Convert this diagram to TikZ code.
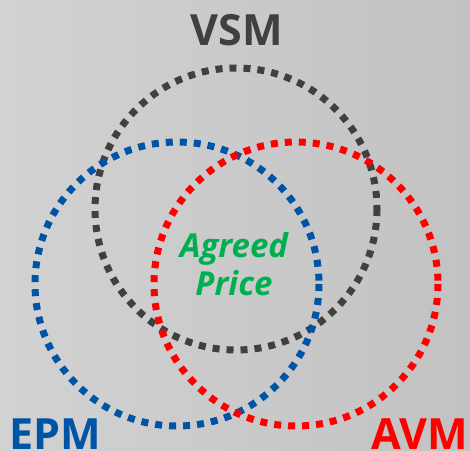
\documentclass[tikz,border=0pt]{standalone}
\usepackage{fontspec}
\setmainfont{Open Sans}
\definecolor{bgL}{RGB}{210,210,210}
\definecolor{bgR}{RGB}{194,194,194}
\definecolor{vsmc}{RGB}{64,64,64}
\definecolor{epmc}{RGB}{0,84,166}
\definecolor{avmc}{RGB}{255,0,0}
\definecolor{agc}{RGB}{0,176,80}
\begin{document}
\begin{tikzpicture}[x=1pt,y=-1pt,
  ring/.style={line width=7pt, dash pattern=on 7pt off 7pt},
  lbl/.style={font=\fontsize{43}{43}\selectfont\bfseries, inner sep=0pt, anchor=base}]
\useasboundingbox (0,0) rectangle (470,450);
\shade[left color=bgL, right color=bgR] (0,0) rectangle (470,450);
\draw[ring, vsmc] (236,209) circle[radius=141];
\draw[ring, epmc] (177,284) circle[radius=142];
\draw[ring, avmc] (296,284) circle[radius=142];
\node[lbl, text=vsmc] (vsm) at (237,45) {VSM};
\node[lbl, text=epmc] (epm) at (55,449) {EPM};
\node[lbl, text=avmc] (avm) at (420,449) {AVM};
\node[font=\fontsize{33}{38}\selectfont\bfseries\itshape, text=agc, align=center, inner sep=0pt] (ag) at (234,264) {Agreed\\Price};
\end{tikzpicture}
\end{document}
